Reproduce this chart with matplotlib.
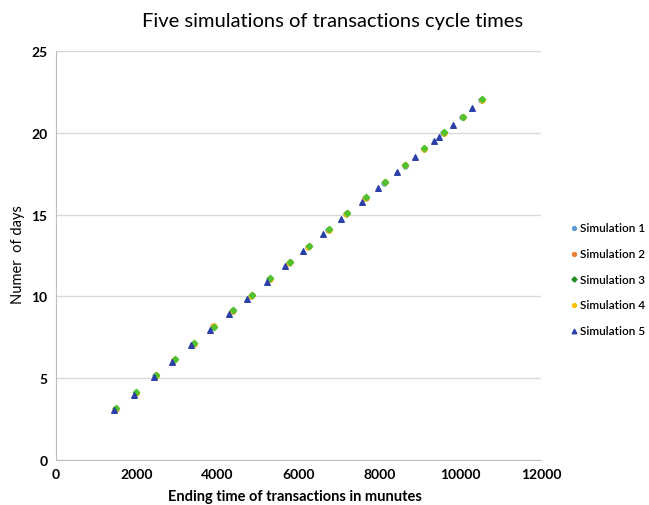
import matplotlib.pyplot as plt

# Ending time of transactions (minutes) and number of days, per simulation
sim1_min = [1470, 1970, 2460, 2920, 3400, 3880, 4360, 4830, 5280, 5770, 6240, 6740, 7180, 7650, 8120, 8620, 9090, 9580, 10050, 10520]
sim1_days = [3.1, 4.1, 5.15, 6.1, 7.1, 8.1, 9.1, 10.05, 11.05, 12.05, 13.05, 14.05, 15.05, 16.0, 16.95, 18.0, 19.0, 20.0, 20.95, 22.0]
sim2_min = [1480, 1980, 2470, 2930, 3410, 3890, 4370, 4840, 5290, 5780, 6250, 6750, 7190, 7660, 8130, 8630, 9100, 9590, 10060, 10530]
sim2_days = [3.12, 4.12, 5.17, 6.12, 7.12, 8.17, 9.12, 10.08, 11.08, 12.08, 13.08, 14.08, 15.08, 16.02, 16.98, 18.02, 19.02, 20.02, 20.98, 22.02]
sim3_min = [1490, 1990, 2480, 2940, 3420, 3900, 4380, 4850, 5300, 5790, 6260, 6760, 7200, 7670, 8140, 8640, 9110, 9600, 10070, 10540]
sim3_days = [3.15, 4.15, 5.2, 6.15, 7.15, 8.15, 9.15, 10.1, 11.1, 12.1, 13.1, 14.1, 15.1, 16.05, 17.0, 18.05, 19.05, 20.05, 21.0, 22.05]
sim4_min = [1475, 1975, 2465, 2925, 3405, 3910, 4365, 4835, 5285, 5775, 6245, 6745, 7185, 7655, 8125, 8625, 9095, 9585, 10055, 10525]
sim4_days = [3.12, 4.12, 5.15, 6.12, 7.12, 8.22, 9.12, 10.05, 11.05, 12.05, 13.05, 14.05, 15.05, 16.02, 16.98, 18.02, 19.02, 20.02, 20.98, 22.02]
sim5_min = [1450, 1940, 2420, 2880, 3350, 3820, 4290, 4730, 5220, 5670, 6110, 6610, 7050, 7570, 7970, 8440, 8890, 9350, 9460, 9830, 10300]
sim5_days = [3.05, 4.0, 5.05, 6.0, 7.0, 7.95, 8.95, 9.85, 10.9, 11.85, 12.75, 13.8, 14.75, 15.75, 16.65, 17.6, 18.55, 19.5, 19.75, 20.5, 21.5]

x_ticks = [0, 2000, 4000, 6000, 8000, 10000, 12000]
y_ticks = [0, 5, 10, 15, 20, 25]

plt.rcParams['font.family'] = ['Lato', 'DejaVu Sans']

fig = plt.figure(figsize=(6.49, 5.06), dpi=100)
ax = fig.add_axes([0.086, 0.089, 0.748, 0.808])

s1 = ax.scatter(sim1_min, sim1_days, marker='o', s=12, color='#5B9BD5', zorder=3)
s2 = ax.scatter(sim2_min, sim2_days, marker='o', s=12, color='#ED7D31', zorder=3)
s4 = ax.scatter(sim4_min, sim4_days, marker='o', s=12, color='#FFC000', zorder=3)
s3 = ax.scatter(sim3_min, sim3_days, marker='D', s=10, color='#4FC22F', zorder=4)
s5 = ax.scatter(sim5_min, sim5_days, marker='^', s=16, color='#2A3FA8', zorder=5)

ax.set_xlim(0, 12000)
ax.set_ylim(0, 25)
ax.set_xticks(x_ticks)
ax.set_yticks(y_ticks)
ax.tick_params(axis='both', length=0, labelsize=10, pad=6)
for lab in ax.get_xticklabels() + ax.get_yticklabels():
    lab.set_fontweight('bold')

ax.grid(axis='y', color='#D9D9D9', linewidth=1)
ax.set_axisbelow(True)
for side in ['top', 'right']:
    ax.spines[side].set_visible(False)
for side in ['left', 'bottom']:
    ax.spines[side].set_color('#BFBFBF')

fig.text(0.512, 0.957, 'Five simulations of transactions cycle times', ha='center', va='center', fontsize=14.5)
fig.text(0.455, 0.018, 'Ending time of transactions in munutes', ha='center', va='center',
         fontsize=10.5, fontweight='bold')
fig.text(0.028, 0.496, 'Numer  of days', ha='center', va='center', rotation=90, fontsize=10.5)

# legend order 1..5 even though drawing order differs
leg_s3 = ax.scatter([], [], marker='D', s=10, color='#1E8C1E')
fig.legend([s1, s2, leg_s3, s4, s5],
           ['Simulation 1', 'Simulation 2', 'Simulation 3', 'Simulation 4', 'Simulation 5'],
           loc='upper left', bbox_to_anchor=(568 / 649, 1 - 223 / 506), frameon=False,
           handletextpad=0.05, handlelength=1.0, labelspacing=1.25,
           markerscale=0.8, borderaxespad=0, borderpad=0,
           prop={'weight': 'semibold', 'size': 8.5})

fig.savefig('out.png', dpi=100)
